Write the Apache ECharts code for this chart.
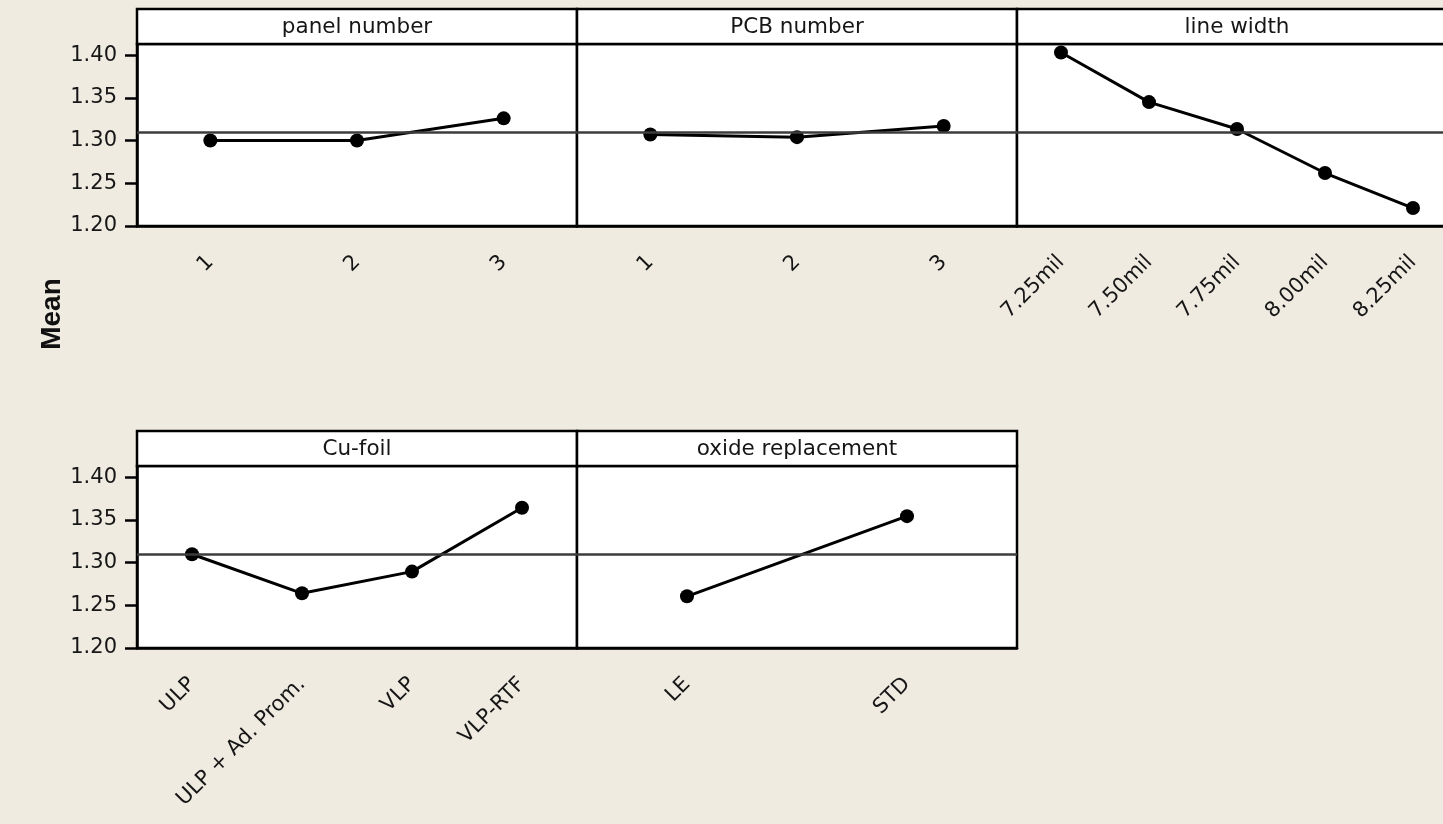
<!DOCTYPE html>
<html>
<head>
<meta charset="utf-8">
<title>Main Effects Plot for Means</title>
<script src="https://cdn.jsdelivr.net/npm/echarts@6/dist/echarts.min.js"></script>
<style>
  html, body { margin: 0; padding: 0; background: #efebe1; }
  #main { width: 1443px; height: 824px; }
</style>
</head>
<body>
<div id="main"></div>
<script>
// Factor levels and the mean response at each level
const panelTitles = ['panel number', 'PCB number', 'line width', 'Cu-foil', 'oxide replacement'];

const panelNumberLevels = ['1', '2', '3'];
const panelNumberMeans = [1.300, 1.300, 1.326];

const pcbLevels = ['1', '2', '3'];
const pcbMeans = [1.307, 1.304, 1.317];

const lineWidthLevels = ['7.25mil', '7.50mil', '7.75mil', '8.00mil', '8.25mil'];
const lineWidthMeans = [1.403, 1.345, 1.3135, 1.262, 1.221];

const cuFoilLevels = ['ULP', 'ULP + Ad. Prom.', 'VLP', 'VLP-RTF'];
const cuFoilMeans = [1.3097, 1.264, 1.2894, 1.3641];

const oxideLevels = ['LE', 'STD'];
const oxideMeans = [1.2605, 1.3543];

const grandMean = 1.308;
const yTicks = [1.20, 1.25, 1.30, 1.35, 1.40];
const yAxisTitle = 'Mean';

// Layout of the 2 x 3 panel matrix (pixels); the last column runs past the page edge
const PANEL_W = 440;
const COL_X = [137, 577, 1017];
const ROWS = [
  { frameTop: 9, plotTop: 44, plotH: 182 },
  { frameTop: 431, plotTop: 466, plotH: 182 }
];
const Y_MIN = 1.2, Y_MAX = 1.413;
const FONT = '"DejaVu Sans", Verdana, sans-serif';
const INK = '#161616';
const FRAME_W = 2.5;

const panels = [
  { row: 0, col: 0, levels: panelNumberLevels, means: panelNumberMeans },
  { row: 0, col: 1, levels: pcbLevels, means: pcbMeans },
  { row: 0, col: 2, levels: lineWidthLevels, means: lineWidthMeans },
  { row: 1, col: 0, levels: cuFoilLevels, means: cuFoilMeans },
  { row: 1, col: 1, levels: oxideLevels, means: oxideMeans }
];

const grids = [], xAxes = [], yAxes = [], series = [], graphics = [];

panels.forEach((p, i) => {
  const r = ROWS[p.row];
  const left = COL_X[p.col];
  const firstInRow = p.col === 0;

  grids.push({
    left: left, top: r.plotTop, width: PANEL_W, height: r.plotH,
    outerBoundsMode: 'none', containLabel: false,
    show: true, backgroundColor: '#ffffff', borderColor: '#000', borderWidth: FRAME_W
  });

  xAxes.push({
    type: 'category', gridIndex: i, data: p.levels, boundaryGap: true,
    axisLine: { lineStyle: { color: '#000', width: FRAME_W } },
    axisTick: { alignWithLabel: true, length: 12, lineStyle: { color: '#000', width: 2.5 } },
    axisLabel: { rotate: 45, margin: 33, fontSize: 21, fontFamily: FONT, color: INK, interval: 0 },
    splitLine: { show: false }
  });

  yAxes.push({
    type: 'value', gridIndex: i, min: Y_MIN, max: Y_MAX,
    axisLine: { show: firstInRow, lineStyle: { color: '#000', width: FRAME_W } },
    axisTick: { show: firstInRow, length: 12, customValues: yTicks, lineStyle: { color: '#000', width: 2.5 } },
    axisLabel: {
      show: firstInRow, customValues: yTicks, margin: 20,
      fontSize: 21, fontFamily: FONT, color: INK,
      formatter: v => v.toFixed(2)
    },
    splitLine: { show: false }
  });

  series.push({
    type: 'line', xAxisIndex: i, yAxisIndex: i, data: p.means,
    symbol: 'circle', symbolSize: 14,
    itemStyle: { color: '#000' },
    lineStyle: { color: '#000', width: 3 },
    silent: true, animation: false, z: 3,
    markLine: {
      silent: true, symbol: 'none', animation: false,
      label: { show: false },
      lineStyle: { color: '#3c3c3c', width: 2.5, type: 'solid' },
      data: [{ yAxis: grandMean }]
    }
  });

  // Header strip carrying the factor name
  graphics.push({
    type: 'rect', z: 10,
    shape: { x: left, y: r.frameTop, width: PANEL_W, height: r.plotTop - r.frameTop },
    style: { fill: '#ffffff', stroke: '#000', lineWidth: FRAME_W }
  });
  graphics.push({
    type: 'text', z: 11,
    x: left + PANEL_W / 2, y: r.frameTop + (r.plotTop - r.frameTop) / 2 + 1,
    style: {
      text: panelTitles[i], fill: INK, font: '21.5px ' + FONT,
      textAlign: 'center', textVerticalAlign: 'middle'
    }
  });
});

// Shared y-axis title
graphics.push({
  type: 'text', z: 11, x: 52, y: 314, rotation: Math.PI / 2,
  style: {
    text: yAxisTitle, fill: '#111', font: 'bold 28px "Liberation Sans", Arial, sans-serif',
    textAlign: 'center', textVerticalAlign: 'middle'
  }
});

const chart = echarts.init(document.getElementById('main'), null, { renderer: 'canvas' });
chart.setOption({
  backgroundColor: '#efebe1',
  animation: false,
  grid: grids,
  xAxis: xAxes,
  yAxis: yAxes,
  series: series,
  graphic: graphics
});
</script>
</body>
</html>
